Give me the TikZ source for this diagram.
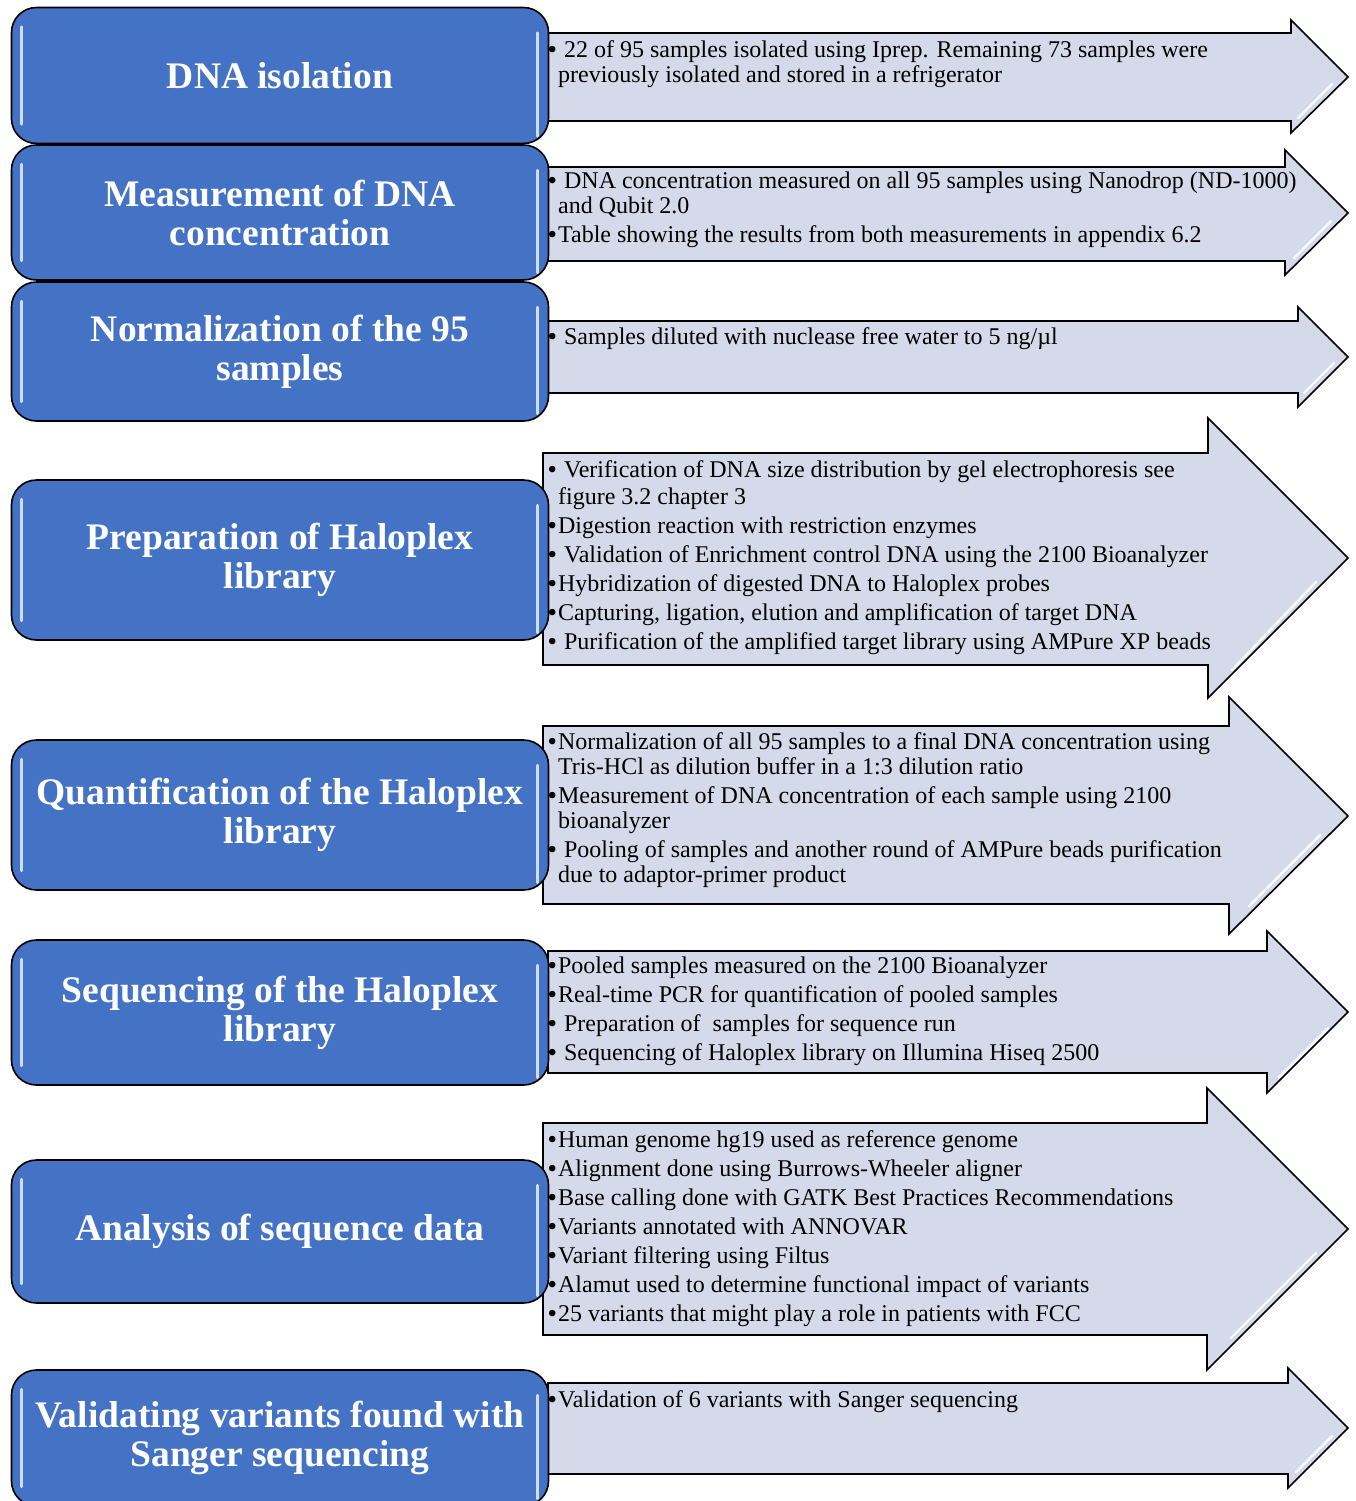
\documentclass[tikz,border=0pt]{standalone}
\usepackage{fontspec}
\setmainfont{Liberation Serif}
\usepackage{xcolor}
\usepackage{tikz}

\definecolor{stepblue}{HTML}{4472C4}
\definecolor{arrowgrey}{RGB}{213,218,235}

\tikzset{
  stepbox/.style={draw=black, line width=1.6pt, fill=stepblue, rounded corners=25pt,
    minimum width=537pt, text=white, align=center, inner sep=4pt,
    font=\fontsize{37.5}{39}\selectfont\bfseries},
  shine/.style={draw=white!75!stepblue, line width=2.6pt, line cap=round},
  flowarrow/.style={draw=black, line width=1.6pt, fill=arrowgrey, line join=miter},
  arrowshine/.style={draw=white, line width=2.5pt, line cap=round, opacity=0.85},
  notes/.style={anchor=north west, inner sep=0pt, align=left,
    font=\fontsize{24}{25}\selectfont}
}

\newcommand{\bul}{{\bfseries•}\kern1.5pt}
\newcommand{\cont}{\hphantom{\bul}}

\begin{document}
\begin{tikzpicture}[x=1pt,y=-1pt]
    \useasboundingbox (0,0) rectangle (1355,1501);

    % arrows behind the boxes
    \draw[flowarrow] (548,33) -- (1291,33) -- (1291,20) -- (1348,77) -- (1291,133) -- (1291,121) -- (548,121) -- cycle;
    \draw[flowarrow] (548,167) -- (1285,167) -- (1285,150) -- (1348,213) -- (1285,275) -- (1285,261) -- (548,261) -- cycle;
    \draw[flowarrow] (548,321) -- (1298,321) -- (1298,307) -- (1348,357) -- (1298,407) -- (1298,393) -- (548,393) -- cycle;
    \draw[flowarrow] (543,453) -- (1208,453) -- (1208,418) -- (1348,558) -- (1208,698) -- (1208,665) -- (543,665) -- cycle;
    \draw[flowarrow] (543,726) -- (1229,726) -- (1229,697) -- (1348,816) -- (1229,934) -- (1229,904) -- (543,904) -- cycle;
    \draw[flowarrow] (548,951) -- (1267,951) -- (1267,931) -- (1348,1012) -- (1267,1093) -- (1267,1073) -- (548,1073) -- cycle;
    \draw[flowarrow] (543,1123) -- (1207,1123) -- (1207,1088) -- (1348,1229) -- (1207,1370) -- (1207,1335) -- (543,1335) -- cycle;
    \draw[flowarrow] (548,1383) -- (1288,1383) -- (1288,1368) -- (1348,1428) -- (1288,1488) -- (1288,1474) -- (548,1474) -- cycle;

    % highlights inside the arrow heads
    \draw[arrowshine] (1298,118) -- (1332,84);
    \draw[arrowshine] (1294,258) -- (1331,221);
    \draw[arrowshine] (1304,393) -- (1334,363);
    \draw[arrowshine] (1232,670) -- (1316,582);
    \draw[arrowshine] (1249,906) -- (1320,835);
    \draw[arrowshine] (1279,1077) -- (1328,1028);
    \draw[arrowshine] (1231,1338) -- (1316,1253);
    \draw[arrowshine] (1296,1472) -- (1332,1436);

    % notes
    \node[notes] (noteA) at (548,40) {\bul\ 22 of 95 samples isolated using Iprep. Remaining 73 samples were\\
      \cont previously isolated and stored in a refrigerator};
    \node[notes] (noteB) at (548,172) {\bul\ DNA concentration measured on all 95 samples using Nanodrop (ND-1000)\\
      \cont and Qubit 2.0\\[4pt]
      \bul Table showing the results from both measurements in appendix 6.2};
    \node[notes] (noteC) at (548,327) {\bul\ Samples diluted with nuclease free water to 5 ng/µl};
    \node[notes] (noteD) at (548,460) {\bul\ Verification of DNA size distribution by gel electrophoresis see\\[2pt]
      \cont figure 3.2 chapter 3\\[4pt]
      \bul Digestion reaction with restriction enzymes\\[4pt]
      \bul\ Validation of Enrichment control DNA using the 2100 Bioanalyzer\\[4pt]
      \bul Hybridization of digested DNA to Haloplex probes\\[4pt]
      \bul Capturing, ligation, elution and amplification of target DNA\\[4pt]
      \bul\ Purification of the amplified target library using AMPure XP beads};
    \node[notes] (noteE) at (548,732) {\bul Normalization of all 95 samples to a final DNA concentration using\\
      \cont Tris-HCl as dilution buffer in a 1:3 dilution ratio\\[4pt]
      \bul Measurement of DNA concentration of each sample using 2100\\
      \cont bioanalyzer\\[4pt]
      \bul\ Pooling of samples and another round of AMPure beads purification\\
      \cont due to adaptor-primer product};
    \node[notes] (noteF) at (548,957) {\bul Pooled samples measured on the 2100 Bioanalyzer\\[4pt]
      \bul Real-time PCR for quantification of pooled samples\\[4pt]
      \bul\ Preparation of \ samples for sequence run\\[4pt]
      \bul\ Sequencing of Haloplex library on Illumina Hiseq 2500};
    \node[notes] (noteG) at (548,1130) {\bul Human genome hg19 used as reference genome\\[4pt]
      \bul Alignment done using Burrows-Wheeler aligner\\[4pt]
      \bul Base calling done with GATK Best Practices Recommendations\\[4pt]
      \bul Variants annotated with ANNOVAR\\[4pt]
      \bul Variant filtering using Filtus\\[4pt]
      \bul Alamut used to determine functional impact of variants\\[4pt]
      \bul 25 variants that might play a role in patients with FCC};
    \node[notes] (noteH) at (548,1390) {\bul Validation of 6 variants with Sanger sequencing};

    % step boxes
    \node[stepbox, minimum height=136pt] (isolation) at (280,75.5) {DNA isolation};
    \node[stepbox, minimum height=135pt] (measure) at (280,212.5) {Measurement of DNA\\concentration};
    \node[stepbox, minimum height=139pt] (normal) at (280,351.5) {Normalization of the 95\\samples};
    \node[stepbox, minimum height=160pt] (prep) at (280,560) {Preparation of Haloplex\\library};
    \node[stepbox, minimum height=150pt] (quant) at (280,815) {Quantification of the Haloplex\\library};
    \node[stepbox, minimum height=145pt] (seq) at (280,1012.5) {Sequencing of the Haloplex\\library};
    \node[stepbox, minimum height=143pt] (analysis) at (280,1231.5) {Analysis of sequence data};
    \node[stepbox, minimum height=136pt] (valid) at (280,1438) {Validating variants found with\\Sanger sequencing};

    % glossy strips
    \foreach \b in {isolation,measure,normal,prep,quant,seq,analysis,valid} {
        \draw[shine] ([xshift=11pt,yshift=-20pt]\b.north west) -- ([xshift=11pt,yshift=20pt]\b.south west);
        \draw[shine] ([xshift=-12pt,yshift=-26pt]\b.north east) -- ([xshift=-12pt,yshift=8pt]\b.south east);
    }
\end{tikzpicture}
\end{document}
